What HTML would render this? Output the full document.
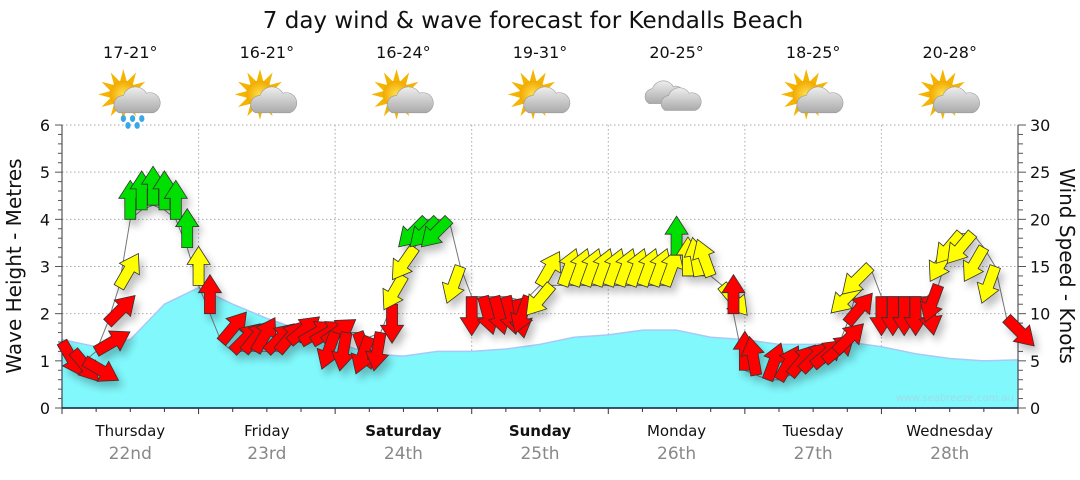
<!DOCTYPE html>
<html><head><meta charset="utf-8"><style>
body{margin:0;background:#fff;width:1080px;height:475px;overflow:hidden;font-family:"Liberation Sans","DejaVu Sans",sans-serif}
svg text{font-family:"DejaVu Sans","Liberation Sans",sans-serif}
</style></head><body>
<svg id="chart" width="1080" height="475" viewBox="0 0 1080 475" xmlns="http://www.w3.org/2000/svg">
<defs>
<filter id="sh" x="-50%" y="-50%" width="200%" height="200%"><feGaussianBlur in="SourceAlpha" stdDeviation="4"/><feOffset dx="4" dy="6"/><feComponentTransfer><feFuncA type="linear" slope="0.25"/></feComponentTransfer><feMerge><feMergeNode/><feMergeNode in="SourceGraphic"/></feMerge></filter>
<radialGradient id="sun" cx="0.5" cy="0.5" r="0.5"><stop offset="0" stop-color="#ffe04a"/><stop offset="1" stop-color="#f2a800"/></radialGradient>
<linearGradient id="cloud" x1="0" y1="0" x2="0" y2="1"><stop offset="0" stop-color="#eee"/><stop offset="1" stop-color="#aaa"/></linearGradient>
</defs>
<text x="533" y="28" font-size="23" text-anchor="middle" fill="#111">7 day wind &amp; wave forecast for Kendalls Beach</text>
<g id="grid"></g>
<g id="waves"></g>
<g id="axes"></g>
<g id="windline"></g>
<g id="arrows" filter="url(#sh)"></g>
<g id="icons"></g>
<text x="1014" y="401" font-size="10" text-anchor="end" fill="#9fdce8">www.seabreeze.com.au</text>
<text transform="translate(21,266) rotate(-90)" font-size="20" text-anchor="middle" fill="#111">Wave Height - Metres</text>
<text transform="translate(1060,266) rotate(90)" font-size="20" text-anchor="middle" fill="#111">Wind Speed - Knots</text>
</svg>
<script>
const days=["Thursday","Friday","Saturday","Sunday","Monday","Tuesday","Wednesday"];
const dates=["22nd","23rd","24th","25th","26th","27th","28th"];
const boldDays=[false,false,true,true,false,false,false];
const temps=["17-21°","16-21°","16-24°","19-31°","20-25°","18-25°","20-28°"];
const iconTypes=["rain","partly","partly","partly","cloud","partly","partly"];
const waveHeights=[1.45,1.3,1.45,2.2,2.55,2.2,1.9,1.65,1.4,1.15,1.1,1.2,1.2,1.25,1.35,1.5,1.55,1.65,1.65,1.5,1.45,1.35,1.35,1.4,1.3,1.15,1.05,1.0,1.02];
const windSpeeds=[7,6,5,6,9,12.8,20,21,21.5,21,20,17,
13,10,7,6,6,6,6,6,7,7,7,7,
8,8,8,7.5,8,11,14,17,20,20,20,15,
11.8,11.8,11.8,11.8,11.5,11.8,13,13,13,13,13,13,
13,13,13,13,13,13,16.2,14,14,14,13,10,
4,3.5,3,3,3.5,4,4.5,5,6,9,13,15,
11.8,11.8,11.8,11.8,11.8,13,17,18.5,18.5,17,15,9.5];
const windDirs=[150,140,120,60,45,30,0,0,0,0,0,0,
0,0,40,45,40,30,45,40,50,60,60,55,
200,190,160,200,190,180,210,215,225,225,225,200,
180,165,165,165,170,200,30,220,20,20,20,20,
20,20,20,20,20,20,0,0,350,340,140,0,
0,350,20,30,40,45,50,50,45,40,225,225,
180,180,180,180,170,200,210,220,220,210,200,135];
const windBands=[0,0,0,0,0,1,2,2,2,2,2,2,
1,0,0,0,0,0,0,0,0,0,0,0,
0,0,0,0,0,0,1,1,2,2,2,1,
0,0,0,0,0,0,1,1,1,1,1,1,
1,1,1,1,1,1,2,1,1,1,1,0,
0,0,0,0,0,0,0,0,0,0,1,1,
0,0,0,0,0,0,1,1,1,1,1,0];
const waveTicks=[0,1,2,3,4,5,6];
const windTicks=[0,5,10,15,20,25,30];

const NS="http://www.w3.org/2000/svg";
const X0=62,X1=1018,Y0=408,Y1=125,DAYW=(X1-X0)/7;
const yM=v=>Y0-(Y0-Y1)*v/6;
const yK=v=>Y0-(Y0-Y1)*v/30;
const xH=h=>X0+h*DAYW/24;
const bandCol=['#ff0000','#ffff00','#00e000'];
function mk(tag,attrs,parent){const e=document.createElementNS(NS,tag);for(const k in attrs)e.setAttribute(k,attrs[k]);parent.appendChild(e);return e;}
const grid=document.getElementById('grid'),axes=document.getElementById('axes');
waveTicks.forEach(v=>{if(v>0){const l=mk('line',{x1:X0,x2:X1,y1:yM(v),y2:yM(v),stroke:'#aaa','stroke-dasharray':'1.5,2.5'},grid);

}});
for(let d=1;d<7;d++){const l=mk('line',{x1:X0+d*DAYW,x2:X0+d*DAYW,y1:Y1,y2:Y0,stroke:'#aaa','stroke-dasharray':'1.5,2.5'},grid);

}
let pd=`M${X0},${Y0}`;
waveHeights.forEach((v,i)=>{pd+=` L${xH(i*6)},${yM(v)}`;});
pd+=` L${X1},${Y0} Z`;
const wa=mk('path',{d:pd,fill:'#80f8fc',stroke:'#a8c8f8','stroke-width':1.5,'stroke-linejoin':'round'},document.getElementById('waves'));


mk('line',{x1:X0,x2:X0,y1:Y1,y2:Y0,stroke:'#333'},axes);
mk('line',{x1:X1,x2:X1,y1:Y1,y2:Y0,stroke:'#333'},axes);
mk('line',{x1:X0,x2:X1,y1:Y0,y2:Y0,stroke:'#124',"stroke-width":1.5},axes);
for(let v=0;v<=30;v++){mk('line',{x1:X0-(v%5?4:7),x2:X0,y1:yK(v),y2:yK(v),stroke:'#555'},axes);
mk('line',{x1:X1,x2:X1+(v%5?5:8),y1:yK(v),y2:yK(v),stroke:'#555'},axes);}
waveTicks.forEach(v=>{const t=mk('text',{x:X0-12,y:yM(v)+6,'font-size':16,'text-anchor':'end',fill:'#111'},axes);t.textContent=v;

});
windTicks.forEach(v=>{const t=mk('text',{x:X1+12,y:yK(v)+6,'font-size':16,fill:'#111'},axes);t.textContent=v;

});
for(let i=0;i<=28;i++){mk('line',{x1:xH(i*6),x2:xH(i*6),y1:Y0,y2:Y0+(i%4?4:6),stroke:'#333'},axes);}
days.forEach((d,i)=>{const cx=X0+(i+0.5)*DAYW;
const t=mk('text',{x:cx,y:436,'font-size':15,'text-anchor':'middle',fill:'#111','font-weight':boldDays[i]?'bold':'normal'},axes);t.textContent=d;


const t2=mk('text',{x:cx,y:459,'font-size':17,'text-anchor':'middle',fill:'#888'},axes);t2.textContent=dates[i];


const t3=mk('text',{x:cx,y:58,'font-size':16,'text-anchor':'middle',fill:'#111'},axes);t3.textContent=temps[i];

});
const ic=document.getElementById('icons');
iconTypes.forEach((ty,i)=>{const cx=X0+(i+0.5)*DAYW,cy=99;
const g=mk('g',{transform:`translate(${cx},${cy}) scale(1.15)`},ic);


if(ty!=='cloud'){for(let a=0;a<360;a+=30){mk('polygon',{points:'-3,-11 3,-11 0,-22',fill:'#f4b400',transform:`translate(-6,-4) rotate(${a})`},g);}
mk('circle',{cx:-6,cy:-4,r:12,fill:'url(#sun)'},g);
mk('path',{d:'M-10,12 a8,8 0 0 1 4,-15 a11,11 0 0 1 20,-2 a8,8 0 0 1 6,17 z',fill:'url(#cloud)',stroke:'#999','stroke-width':0.5},g);
if(ty==='rain'){[[-6,17],[2,17],[10,17],[-2,23],[6,23]].forEach(p=>mk('ellipse',{cx:p[0],cy:p[1],rx:2.3,ry:3,fill:'#3aa8e8'},g));}}
else{mk('path',{d:'M-24,4 a7,7 0 0 1 3,-13 a10,10 0 0 1 18,-2 a7,7 0 0 1 4,15 z',fill:'url(#cloud)',stroke:'#999','stroke-width':0.5},g);
mk('path',{d:'M-10,10 a7,7 0 0 1 3,-13 a10,10 0 0 1 18,-2 a7,7 0 0 1 5,15 z',fill:'url(#cloud)',stroke:'#999','stroke-width':0.5},g);}
});
let wl='';windSpeeds.forEach((v,i)=>{wl+=(i?' L':'M')+xH(i*2)+','+yK(v);});
mk('path',{d:wl,fill:'none',stroke:'#777','stroke-width':1},document.getElementById('windline'));
const ag=document.getElementById('arrows');
const AP='M-5.5,0 L5.5,0 L5.5,-21 L11.5,-21 L0,-39 L-11.5,-21 L-5.5,-21 Z';
windSpeeds.forEach((v,i)=>{
const p=mk('path',{d:AP,fill:bandCol[windBands[i]],stroke:'#333','stroke-width':0.8,transform:`translate(${xH(i*2)},${yK(v)}) rotate(${windDirs[i]})`},ag);

});
</script>
</body></html>
